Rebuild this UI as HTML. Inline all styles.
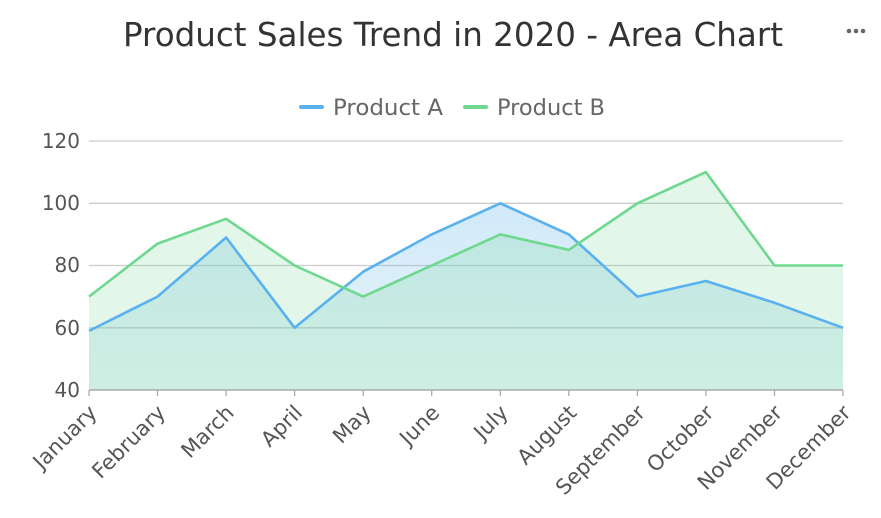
<!DOCTYPE html>
<html><head><meta charset="utf-8"><style>body{margin:0;background:#fff}svg{display:block;font-family:"DejaVu Sans","Liberation Sans",sans-serif}</style></head>
<body>
<svg width="881" height="518" viewBox="0 0 881 518">
<text x="123" y="46" font-size="33" fill="#333" textLength="660" lengthAdjust="spacingAndGlyphs">Product Sales Trend in 2020 - Area Chart</text>
<g fill="#666"><circle cx="849" cy="31" r="2.3"/><circle cx="856" cy="31" r="2.3"/><circle cx="863" cy="31" r="2.3"/></g>
<line x1="301" y1="107" x2="322" y2="107" stroke="#5ab1ef" stroke-width="4" stroke-linecap="round"/>
<text x="333" y="115" font-size="22" fill="#666" textLength="110" lengthAdjust="spacingAndGlyphs">Product A</text>
<line x1="465" y1="107" x2="486" y2="107" stroke="#6fd88f" stroke-width="4" stroke-linecap="round"/>
<text x="497" y="115" font-size="22" fill="#666" textLength="108" lengthAdjust="spacingAndGlyphs">Product B</text>
<g stroke="#ccc" stroke-width="1.3">
<line x1="89" y1="141" x2="843" y2="141"/><line x1="89" y1="203.3" x2="843" y2="203.3"/><line x1="89" y1="265.5" x2="843" y2="265.5"/><line x1="89" y1="327.8" x2="843" y2="327.8"/>
</g>
<g font-size="20" fill="#555" text-anchor="end">
<text x="80" y="148">120</text><text x="80" y="210">100</text><text x="80" y="272">80</text><text x="80" y="335">60</text><text x="80" y="397">40</text>
</g>
<defs>
<linearGradient id="ga" x1="0" y1="0" x2="0" y2="1"><stop offset="0" stop-color="#5ab1ef" stop-opacity="0.28"/><stop offset="1" stop-color="#8fd0d8" stop-opacity="0.22"/></linearGradient>
</defs>
<polygon fill="url(#ga)" points="89,390 89,330.9 157.5,296.6 226.1,237.5 294.6,327.8 363.2,271.7 431.7,234.4 500.3,203.3 568.8,234.4 637.4,296.6 705.9,281 774.5,302.8 843,327.8 843,390"/>
<polygon fill="#6fd88f" fill-opacity="0.2" points="89,390 89,296.6 157.5,243.7 226.1,218.8 294.6,265.5 363.2,296.6 431.7,265.5 500.3,234.4 568.8,249.9 637.4,203.3 705.9,172.1 774.5,265.5 843,265.5 843,390"/>
<polyline fill="none" stroke="#5ab1ef" stroke-width="2.6" stroke-linejoin="round" points="89,330.9 157.5,296.6 226.1,237.5 294.6,327.8 363.2,271.7 431.7,234.4 500.3,203.3 568.8,234.4 637.4,296.6 705.9,281 774.5,302.8 843,327.8"/>
<polyline fill="none" stroke="#6fd88f" stroke-width="2.6" stroke-linejoin="round" points="89,296.6 157.5,243.7 226.1,218.8 294.6,265.5 363.2,296.6 431.7,265.5 500.3,234.4 568.8,249.9 637.4,203.3 705.9,172.1 774.5,265.5 843,265.5"/>
<line x1="89" y1="390" x2="843" y2="390" stroke="#aaa" stroke-width="1.5"/>
<g stroke="#aaa" stroke-width="1.3">
<line x1="89" y1="390" x2="89" y2="396"/><line x1="157.5" y1="390" x2="157.5" y2="396"/><line x1="226.1" y1="390" x2="226.1" y2="396"/><line x1="294.6" y1="390" x2="294.6" y2="396"/><line x1="363.2" y1="390" x2="363.2" y2="396"/><line x1="431.7" y1="390" x2="431.7" y2="396"/><line x1="500.3" y1="390" x2="500.3" y2="396"/><line x1="568.8" y1="390" x2="568.8" y2="396"/><line x1="637.4" y1="390" x2="637.4" y2="396"/><line x1="705.9" y1="390" x2="705.9" y2="396"/><line x1="774.5" y1="390" x2="774.5" y2="396"/><line x1="843" y1="390" x2="843" y2="396"/>
</g>
<g font-size="21" fill="#555" text-anchor="end">
<text transform="translate(98,414) rotate(-45)">January</text>
<text transform="translate(166.5,414) rotate(-45)">February</text>
<text transform="translate(235.1,414) rotate(-45)">March</text>
<text transform="translate(303.6,414) rotate(-45)">April</text>
<text transform="translate(372.2,414) rotate(-45)">May</text>
<text transform="translate(440.7,414) rotate(-45)">June</text>
<text transform="translate(509.3,414) rotate(-45)">July</text>
<text transform="translate(577.8,414) rotate(-45)">August</text>
<text transform="translate(646.4,414) rotate(-45)">September</text>
<text transform="translate(714.9,414) rotate(-45)">October</text>
<text transform="translate(783.5,414) rotate(-45)">November</text>
<text transform="translate(852,414) rotate(-45)">December</text>
</g>
</svg>
</body></html>
